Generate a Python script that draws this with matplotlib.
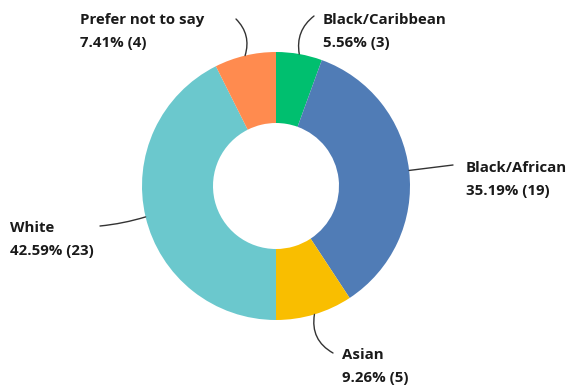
import numpy as np
import matplotlib.pyplot as plt

# data, clockwise from 12 o'clock
labels = ["Black/Caribbean", "Black/African", "Asian", "White", "Prefer not to say"]
counts = [3, 19, 5, 23, 4]
pcts = [5.56, 35.19, 9.26, 42.59, 7.41]
colors = ["#00bf6f", "#507cb6", "#f9be00", "#6bc8cd", "#ff8b4f"]

# label placement (pixels, top-left origin): text x, name y, line end
text_pos = [(323, 20), (466, 168), (342, 355), (10, 228), (80, 20)]
line_end = [(314, 16), (453, 165), (333, 353), (100, 226), (236, 19)]
line_rad = [0.3, 0.0, -0.35, 0.05, -0.3]

W, H = 573, 385
cx, cy, R, hole = 276, 186, 134, 63

fig = plt.figure(figsize=(W / 100, H / 100), dpi=100)
ax = fig.add_axes([0, 0, 1, 1])

ax.pie(counts, colors=colors, startangle=90, counterclock=False,
       center=(cx, H - cy), radius=R,
       wedgeprops=dict(width=R - hole, linewidth=0))
ax.set_xlim(0, W)
ax.set_ylim(0, H)
ax.set_aspect("equal")
ax.axis("off")

font = "Open Sans"
start = 90.0
total = sum(counts)
for lab, n, p, tp, le, rad in zip(labels, counts, pcts, text_pos, line_end, line_rad):
    span = 360.0 * n / total
    mid = np.deg2rad(start - span / 2)
    start -= span
    px = cx + R * np.cos(mid)
    py = (H - cy) + R * np.sin(mid)
    ax.annotate("", xy=(px, py), xytext=(le[0], H - le[1]),
                arrowprops=dict(arrowstyle="-", color="#333333", lw=1.0,
                                shrinkA=0, shrinkB=0,
                                connectionstyle=f"arc3,rad={rad}"))
    ax.text(tp[0], H - tp[1], lab, fontsize=10.8, fontweight="bold",
            family=font, color="#1a1a1a", va="center", ha="left")
    ax.text(tp[0], H - tp[1] - 23, f"{p:.2f}% ({n})", fontsize=10.8,
            fontweight="bold", family=font, color="#1a1a1a",
            va="center", ha="left")

fig.savefig("out.png", dpi=100)
